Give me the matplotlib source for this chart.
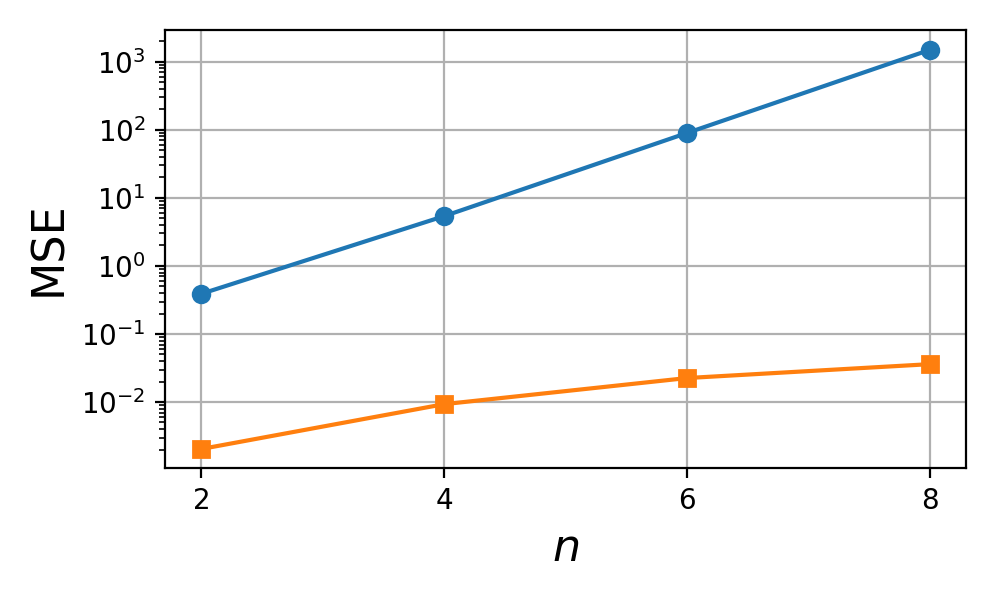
import numpy as np
import matplotlib
matplotlib.use("Agg")
import matplotlib.pyplot as plt

# Données
n = [2, 4, 6, 8]
mse_blue = [0.39, 5.4, 90, 1500]
mse_orange = [0.00204, 0.0093, 0.0225, 0.036]

fig = plt.figure(figsize=(4.985, 2.99), dpi=200)
ax = fig.add_axes([0.1655, 0.2174, 0.8035, 0.7326])

ax.plot(n, mse_blue, marker='o', color='tab:blue')
ax.plot(n, mse_orange, marker='s', color='tab:orange')
ax.set_yscale('log')
ax.set_xticks(n)
ax.set_ylim(10**-2.97, 10**3.47)
ax.grid(True)
ax.set_axisbelow(True)
ax.set_xlabel(r"$n$", fontsize=16)
ax.set_ylabel("MSE", fontsize=16)

fig.savefig("out.png", dpi=200)
